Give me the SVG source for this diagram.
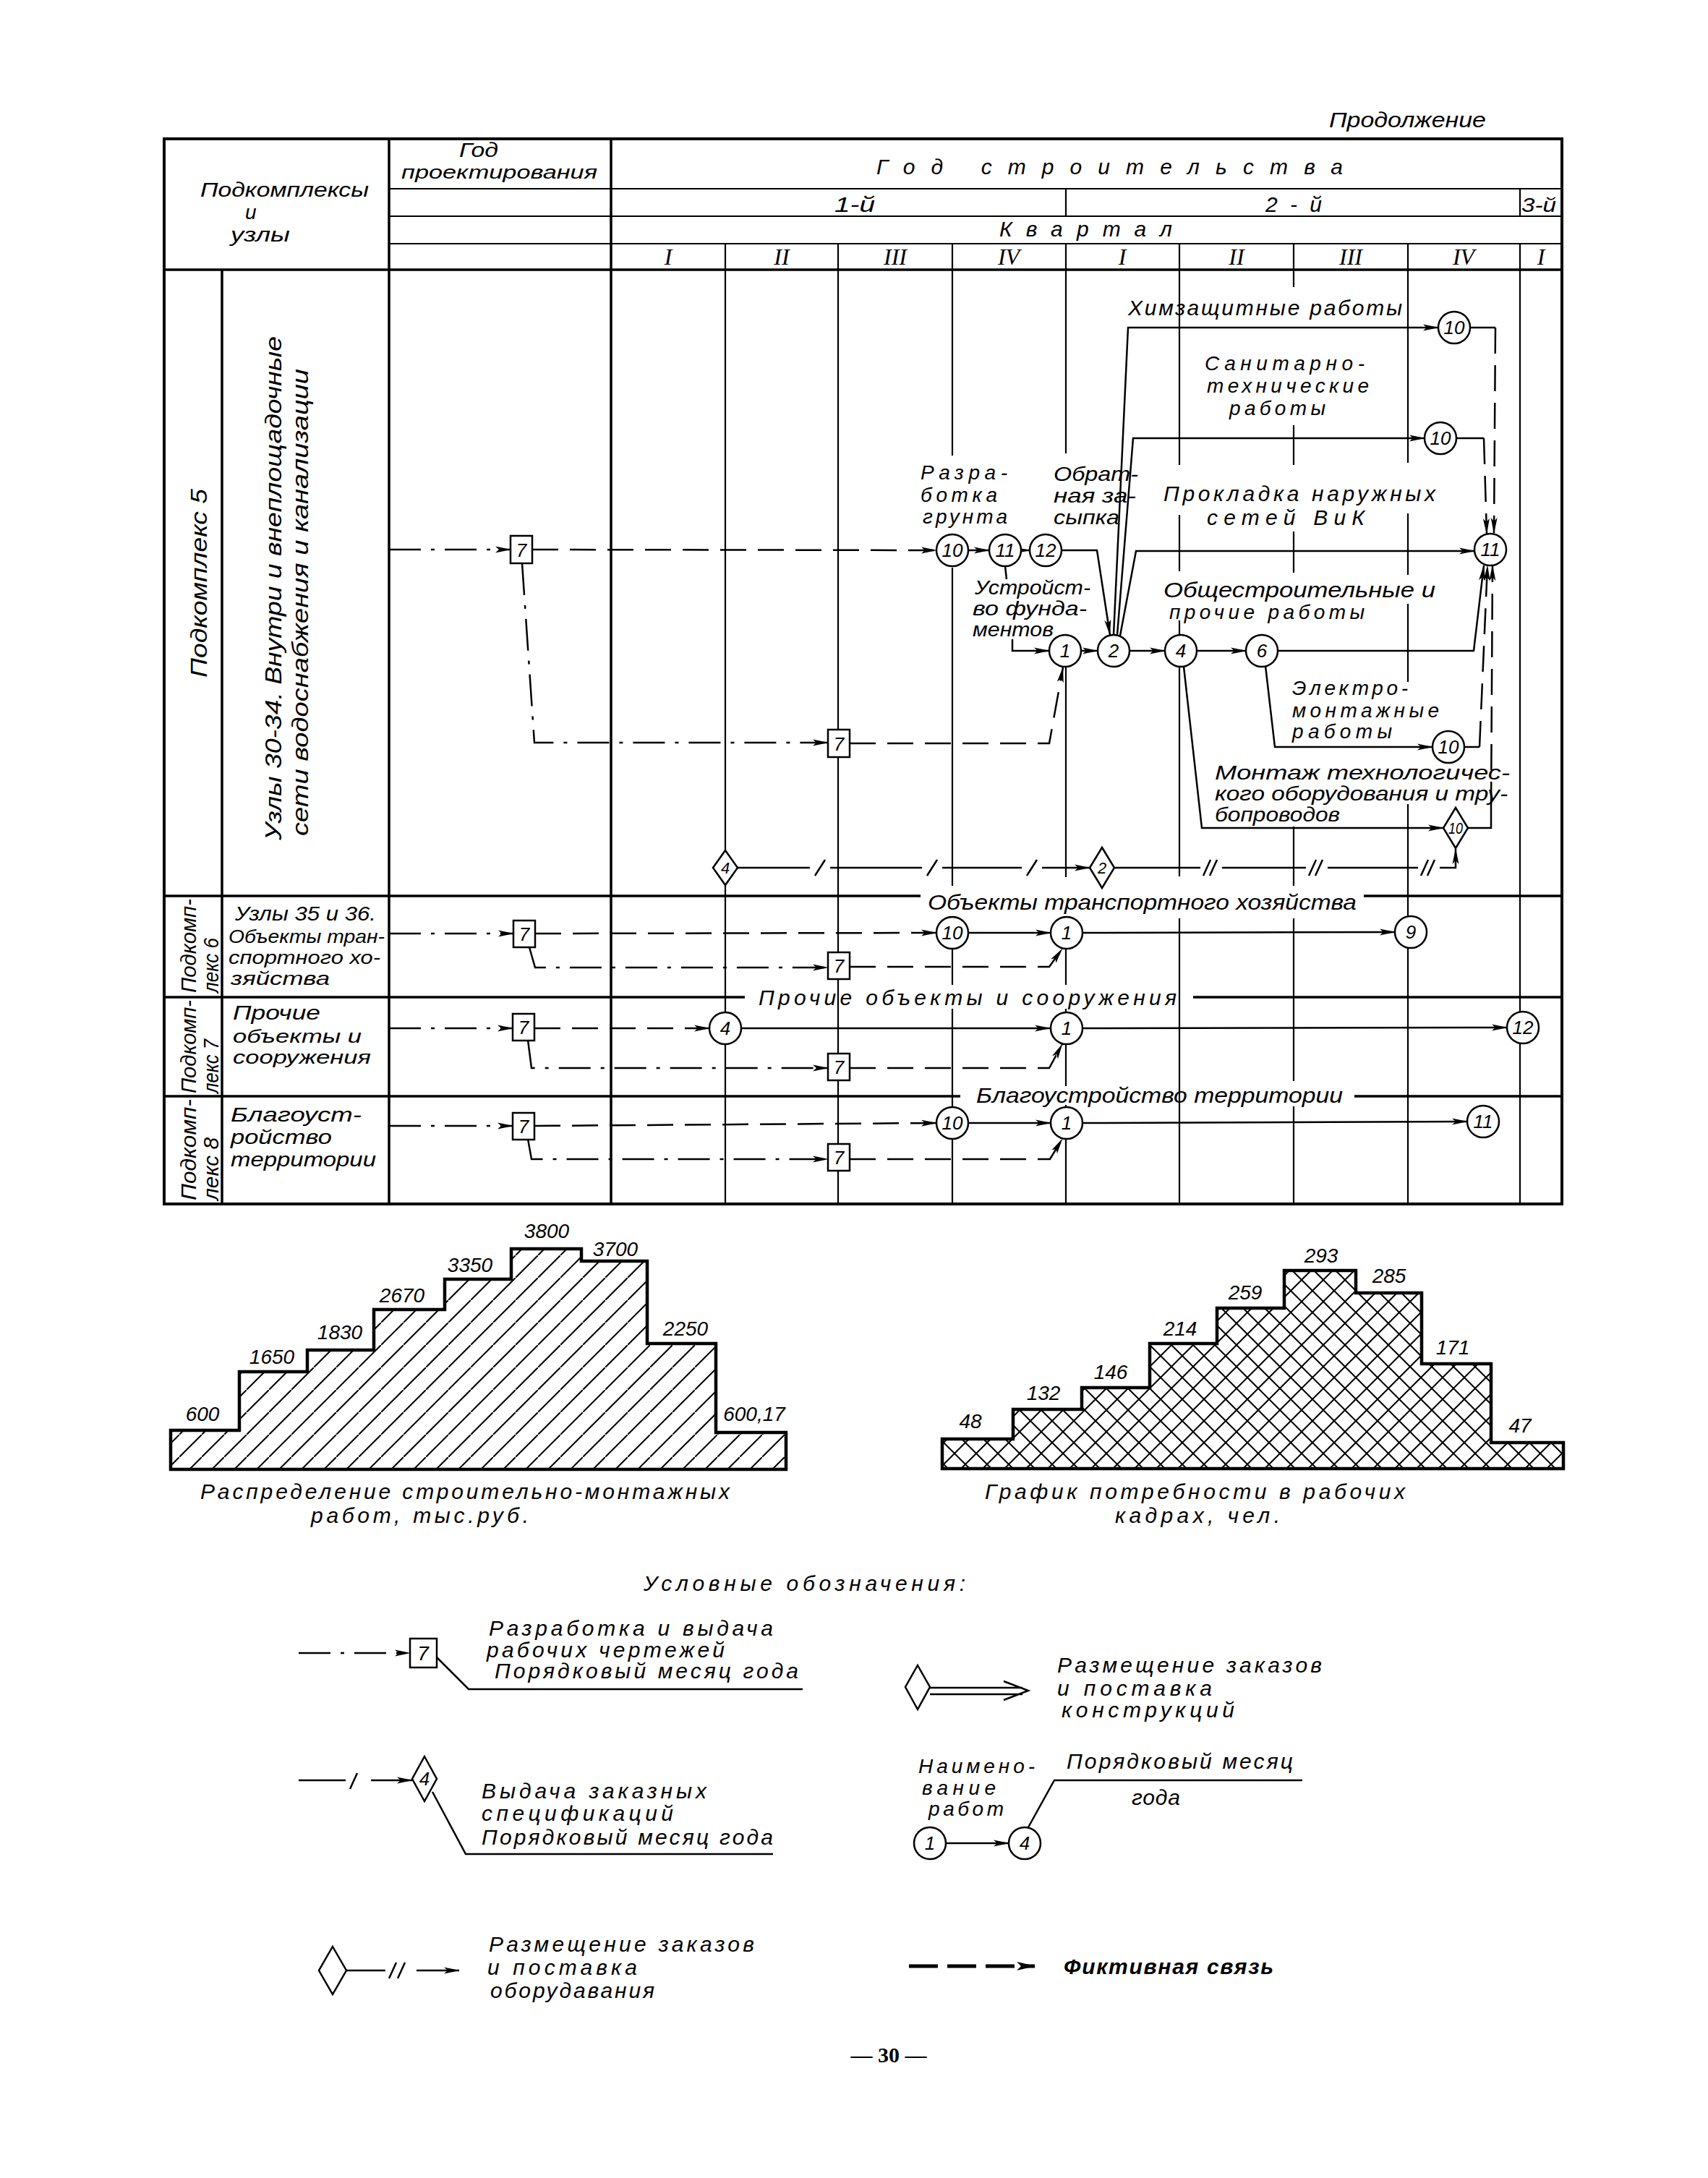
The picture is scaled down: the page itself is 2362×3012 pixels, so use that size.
<svg xmlns="http://www.w3.org/2000/svg" width="2362" height="3012" viewBox="0 0 2362 3012">
<style>
.t{font-family:'Liberation Sans',Arial,sans-serif;font-style:italic;fill:#000}
.f22{font-size:22px}.f26{font-size:26px}.f28{font-size:28px}.f30{font-size:30px}.f32{font-size:32px}
.rn{font-family:'Liberation Serif','Times New Roman',serif;font-style:italic;font-size:32px;text-anchor:middle}
.c{text-anchor:middle}
.b{stroke:#000;stroke-width:4;fill:none}
.r{stroke:#000;stroke-width:3.5;fill:none}
.g{stroke:#000;stroke-width:2.2;fill:none}
.l{stroke:#000;stroke-width:2.5;fill:none}
.dd{stroke:#000;stroke-width:2.5;fill:none;stroke-dasharray:44 14 5 14}
.ds{stroke:#000;stroke-width:2.5;fill:none;stroke-dasharray:36 16}
.n{fill:#fff;stroke:#000;stroke-width:2.5}
.ar{marker-end:url(#a)}
</style>
<defs>
<marker id="a" viewBox="0 0 22 10" refX="21" refY="5" markerWidth="22" markerHeight="10" markerUnits="userSpaceOnUse" orient="auto"><path d="M0,0.5 L22,5 L0,9.5 L5,5 Z" fill="#000"/></marker>
<marker id="a2" viewBox="0 0 26 14" refX="25" refY="7" markerWidth="26" markerHeight="14" markerUnits="userSpaceOnUse" orient="auto"><path d="M0,1 L26,7 L0,13 L6,7 Z" fill="#000"/></marker>
<pattern id="h1" patternUnits="userSpaceOnUse" width="31" height="31"><path d="M-4,35 L35,-4" stroke="#000" stroke-width="2"/></pattern>
<pattern id="h2" patternUnits="userSpaceOnUse" width="30" height="30"><path d="M-3,-3 L33,33 M33,-3 L-3,33" stroke="#000" stroke-width="2"/></pattern>
</defs>
<rect width="2362" height="3012" fill="#fff"/>

<text class="t f30" x="1838" y="176" textLength="217" lengthAdjust="spacingAndGlyphs">Продолжение</text>

<!-- TABLE GRID -->
<g id="table">
<rect class="b" x="227" y="192" width="1933" height="1473"/>
<path class="g" d="M538,261 H2160 M538,299 H2160 M538,337 H2160"/>
<path class="r" d="M227,373 H2160"/>
<path class="r" d="M538,192 V1665 M845,192 V1665 M307,373 V1665"/>
<path class="g" d="M1474,261 V299 M2102,261 V299"/>
<path class="g" d="M1003,337 V373 M1159,337 V373 M1317,337 V373 M1474,337 V373 M1631,337 V373 M1789,337 V373 M1947,337 V373 M2102,337 V373"/>
<path class="r" d="M227,1239 H1273 M1886,1239 H2160 M227,1379 H1030 M1650,1379 H2160 M227,1516 H1328 M1873,1516 H2160"/>
<path class="g" d="M1003,373 V1665 M1159,373 V1665
M1317,373 V630 M1317,785 V1225 M1317,1313 V1362 M1317,1395 V1665
M1474,373 V627 M1474,923 V1213 M1474,1313 V1362 M1474,1395 V1502 M1474,1528 V1665
M1631,373 V643 M1631,712 V790 M1631,858 V1212 M1631,1270 V1665
M1789,373 V397 M1789,588 V643 M1789,735 V792 M1789,1143 V1225 M1789,1270 V1495 M1789,1530 V1665
M1947,373 V640 M1947,710 V795 M1947,835 V943 M1947,1112 V1665
M2102,373 V1665"/>
</g>

<!-- HEADER TEXT -->
<g id="header">
<text class="t f28" x="277" y="272" textLength="233" lengthAdjust="spacingAndGlyphs">Подкомплексы</text>
<text class="t f28" x="339" y="303">и</text>
<text class="t f28" x="319" y="334" textLength="82" lengthAdjust="spacingAndGlyphs">узлы</text>
<text class="t f28" x="635" y="217" textLength="54" lengthAdjust="spacingAndGlyphs">Год</text>
<text class="t f26" x="555" y="247" textLength="271" lengthAdjust="spacingAndGlyphs">проектирования</text>
<text class="t f30" x="1212" y="241" textLength="645" lengthAdjust="spacing">Год  строительства</text>
<text class="t f30" x="1154" y="293" textLength="56" lengthAdjust="spacingAndGlyphs">1-й</text>
<text class="t f30" x="1750" y="293" textLength="78" lengthAdjust="spacing">2-й</text>
<text class="t f28" x="2104" y="293" textLength="48" lengthAdjust="spacingAndGlyphs">3-й</text>
<text class="t f30" x="1382" y="327" textLength="239" lengthAdjust="spacing">Квартал</text>
<text class="rn" x="924" y="366">I</text>
<text class="rn" x="1081" y="366">II</text>
<text class="rn" x="1238" y="366">III</text>
<text class="rn" x="1395" y="366">IV</text>
<text class="rn" x="1552" y="366">I</text>
<text class="rn" x="1710" y="366">II</text>
<text class="rn" x="1868" y="366">III</text>
<text class="rn" x="2024" y="366">IV</text>
<text class="rn" x="2131" y="366">I</text>
</g>

<!-- ROW LABELS -->
<g id="row-labels">
<text class="t f32" transform="translate(286,937) rotate(-90)" textLength="261" lengthAdjust="spacingAndGlyphs">Подкомплекс 5</text>
<text class="t f32" transform="translate(389,1162) rotate(-90)" textLength="697" lengthAdjust="spacingAndGlyphs">Узлы 30-34. Внутри и внеплощадочные</text>
<text class="t f32" transform="translate(426,1156) rotate(-90)" textLength="646" lengthAdjust="spacingAndGlyphs">сети водоснабжения и канализации</text>
<text class="t f30" transform="translate(271,1373) rotate(-90)" textLength="130" lengthAdjust="spacingAndGlyphs">Подкомп-</text>
<text class="t f30" transform="translate(302,1373) rotate(-90)" textLength="76" lengthAdjust="spacingAndGlyphs">лекс 6</text>
<text class="t f30" transform="translate(271,1512) rotate(-90)" textLength="129" lengthAdjust="spacingAndGlyphs">Подкомп-</text>
<text class="t f30" transform="translate(302,1512) rotate(-90)" textLength="75" lengthAdjust="spacingAndGlyphs">лекс 7</text>
<text class="t f30" transform="translate(271,1660) rotate(-90)" textLength="140" lengthAdjust="spacingAndGlyphs">Подкомп-</text>
<text class="t f30" transform="translate(302,1660) rotate(-90)" textLength="87" lengthAdjust="spacingAndGlyphs">лекс 8</text>
<text class="t f28" x="325" y="1273" textLength="195" lengthAdjust="spacingAndGlyphs">Узлы 35 и 36.</text>
<text class="t f26" x="316" y="1304" textLength="216" lengthAdjust="spacingAndGlyphs">Объекты тран-</text>
<text class="t f26" x="316" y="1333" textLength="210" lengthAdjust="spacingAndGlyphs">спортного хо-</text>
<text class="t f26" x="319" y="1362" textLength="137" lengthAdjust="spacingAndGlyphs">зяйства</text>
<text class="t f28" x="322" y="1410" textLength="121" lengthAdjust="spacingAndGlyphs">Прочие</text>
<text class="t f26" x="322" y="1442" textLength="178" lengthAdjust="spacingAndGlyphs">объекты и</text>
<text class="t f26" x="322" y="1471" textLength="191" lengthAdjust="spacingAndGlyphs">сооружения</text>
<text class="t f28" x="319" y="1551" textLength="181" lengthAdjust="spacingAndGlyphs">Благоуст-</text>
<text class="t f28" x="319" y="1582" textLength="140" lengthAdjust="spacingAndGlyphs">ройство</text>
<text class="t f28" x="319" y="1613" textLength="201" lengthAdjust="spacingAndGlyphs">территории</text>
<text class="t f30" x="1283" y="1258" textLength="593" lengthAdjust="spacingAndGlyphs">Объекты транспортного хозяйства</text>
<text class="t f30" x="1049" y="1390" textLength="578" lengthAdjust="spacing">Прочие объекты и сооружения</text>
<text class="t f30" x="1350" y="1525" textLength="507" lengthAdjust="spacingAndGlyphs">Благоустройство территории</text>
</g>

<!-- WORK LABELS -->
<g id="work-labels">
<text class="t f30" x="1560" y="436" textLength="379" lengthAdjust="spacing">Химзащитные работы</text>
<text class="t f28" x="1666" y="512" textLength="221" lengthAdjust="spacing">Санитарно-</text>
<text class="t f28" x="1669" y="543" textLength="224" lengthAdjust="spacing">технические</text>
<text class="t f28" x="1700" y="574" textLength="133" lengthAdjust="spacing">работы</text>
<text class="t f30" x="1609" y="693" textLength="376" lengthAdjust="spacing">Прокладка наружных</text>
<text class="t f30" x="1669" y="726" textLength="218" lengthAdjust="spacing">сетей ВиК</text>
<text class="t f30" x="1609" y="826" textLength="376" lengthAdjust="spacingAndGlyphs">Общестроительные и</text>
<text class="t f28" x="1617" y="856" textLength="270" lengthAdjust="spacing">прочие работы</text>
<text class="t f28" x="1273" y="663" textLength="120" lengthAdjust="spacing">Разра-</text>
<text class="t f28" x="1273" y="694" textLength="106" lengthAdjust="spacing">ботка</text>
<text class="t f28" x="1276" y="724" textLength="117" lengthAdjust="spacing">грунта</text>
<text class="t f28" x="1457" y="665" textLength="117" lengthAdjust="spacingAndGlyphs">Обрат-</text>
<text class="t f28" x="1457" y="695" textLength="114" lengthAdjust="spacingAndGlyphs">ная за-</text>
<text class="t f28" x="1457" y="725" textLength="91" lengthAdjust="spacingAndGlyphs">сыпка</text>
<text class="t f28" x="1348" y="822" textLength="160" lengthAdjust="spacingAndGlyphs">Устройст-</text>
<text class="t f28" x="1345" y="851" textLength="158" lengthAdjust="spacingAndGlyphs">во фунда-</text>
<text class="t f28" x="1345" y="880" textLength="112" lengthAdjust="spacingAndGlyphs">ментов</text>
<text class="t f28" x="1787" y="961" textLength="160" lengthAdjust="spacing">Электро-</text>
<text class="t f28" x="1787" y="992" textLength="203" lengthAdjust="spacing">монтажные</text>
<text class="t f28" x="1787" y="1021" textLength="138" lengthAdjust="spacing">работы</text>
<text class="t f28" x="1680" y="1078" textLength="408" lengthAdjust="spacingAndGlyphs">Монтаж технологичес-</text>
<text class="t f28" x="1680" y="1107" textLength="405" lengthAdjust="spacingAndGlyphs">кого оборудования и тру-</text>
<text class="t f28" x="1680" y="1136" textLength="173" lengthAdjust="spacingAndGlyphs">бопроводов</text>
</g>

<!-- CONNECTORS -->
<g id="connectors">
<!-- SC5 -->
<path class="dd ar" d="M538,760 H706"/>
<path class="ds ar" d="M736,760 L1295,761"/>
<path class="l ar" d="M1339,761 H1368"/>
<path class="l ar" d="M1412,761 H1424"/>
<path class="l ar" d="M1468,761 H1517 L1535,878"/>
<path class="l" d="M1390,783 L1392,801"/>
<path class="l ar" d="M1400,884 V900 H1451"/>
<path class="dd ar" d="M722,779 L739,1027 H1145"/>
<path class="ds ar" d="M1175,1028 H1451 L1470,923"/>
<path class="l ar" d="M1495,900 H1518"/>
<path class="l ar" d="M1562,900 H1611"/>
<path class="l ar" d="M1655,900 H1723"/>
<path class="l ar" d="M1540,878 L1560,453 H1989"/>
<path class="l ar" d="M1545,878 L1567,606 H1970"/>
<path class="l ar" d="M1549,879 L1571,762 H2039"/>
<path class="l ar" d="M1767,900 H2038 L2052,782"/>
<path class="l ar" d="M1750,921 L1763,1033 H1981"/>
<path class="l ar" d="M1637,922 L1662,1145 H1996"/>
<path class="l" d="M2033,453 H2068"/>
<path class="ds ar" d="M2068,453 L2066,737"/>
<path class="l" d="M2014,606 H2052"/>
<path class="ds ar" d="M2052,606 L2056,738"/>
<path class="l" d="M2025,1033 H2046"/>
<path class="ds ar" d="M2046,1033 L2057,782"/>
<path class="l" d="M2030,1145 H2062 V1117"/>
<path class="ds ar" d="M2062,1117 L2064,782"/>
<path class="l" d="M1020,1200 H1120 M1148,1200 H1275 M1303,1200 H1413"/>
<path class="l" d="M1127,1211 L1141,1189 M1282,1211 L1296,1189 M1420,1211 L1434,1189"/>
<path class="l ar" d="M1441,1200 H1507"/>
<path class="l" d="M1541,1200 H1660 M1690,1200 H1806 M1836,1200 H1961"/>
<path class="l" d="M1664,1211 L1674,1189 M1673,1211 L1683,1189 M1810,1211 L1820,1189 M1819,1211 L1829,1189 M1965,1211 L1975,1189 M1974,1211 L1984,1189"/>
<path class="l ar" d="M1991,1200 H2013 V1174"/>
<!-- SC6 -->
<path class="dd ar" d="M538,1291 H710"/>
<path class="ds ar" d="M740,1291 L1295,1290"/>
<path class="l ar" d="M1339,1290 H1453"/>
<path class="l ar" d="M1497,1290 L1929,1289"/>
<path class="dd ar" d="M732,1310 L740,1338 H1145"/>
<path class="ds ar" d="M1175,1337 H1451 L1469,1312"/>
<!-- SC7 -->
<path class="dd ar" d="M538,1422 H709"/>
<path class="ds ar" d="M739,1422 H981"/>
<path class="l ar" d="M1025,1422 H1452"/>
<path class="l ar" d="M1497,1422 L2084,1421"/>
<path class="dd ar" d="M730,1438 L735,1477 H1145"/>
<path class="ds ar" d="M1175,1477 H1451 L1469,1444"/>
<!-- SC8 -->
<path class="dd ar" d="M538,1557 H709"/>
<path class="ds ar" d="M739,1557 L1295,1553"/>
<path class="l ar" d="M1339,1553 H1453"/>
<path class="l ar" d="M1497,1553 L2029,1551"/>
<path class="dd ar" d="M730,1575 L735,1603 H1145"/>
<path class="ds ar" d="M1175,1603 H1452 L1469,1575"/>
</g>

<!-- NODES -->
<g id="sc5-box7a"><rect class="n" x="706" y="741" width="30" height="38"/><text class="t f26 c" x="721" y="770">7</text></g>
<g id="sc5-box7b"><rect class="n" x="1145" y="1009" width="30" height="38"/><text class="t f26 c" x="1160" y="1038">7</text></g>
<g id="sc5-n10a"><circle class="n" cx="1317" cy="761" r="22"/><text class="t f26 c" x="1317" y="770">10</text></g>
<g id="sc5-n11a"><circle class="n" cx="1390" cy="761" r="22"/><text class="t f26 c" x="1390" y="770">11</text></g>
<g id="sc5-n12a"><circle class="n" cx="1446" cy="761" r="22"/><text class="t f26 c" x="1446" y="770">12</text></g>
<g id="sc5-n1"><circle class="n" cx="1473" cy="900" r="22"/><text class="t f26 c" x="1473" y="909">1</text></g>
<g id="sc5-n2"><circle class="n" cx="1540" cy="900" r="22"/><text class="t f26 c" x="1540" y="909">2</text></g>
<g id="sc5-n4"><circle class="n" cx="1633" cy="900" r="22"/><text class="t f26 c" x="1633" y="909">4</text></g>
<g id="sc5-n6"><circle class="n" cx="1745" cy="900" r="22"/><text class="t f26 c" x="1745" y="909">6</text></g>
<g id="sc5-n10-chem"><circle class="n" cx="2011" cy="453" r="22"/><text class="t f26 c" x="2011" y="462">10</text></g>
<g id="sc5-n10-sanit"><circle class="n" cx="1992" cy="606" r="22"/><text class="t f26 c" x="1992" y="615">10</text></g>
<g id="sc5-n11-final"><circle class="n" cx="2061" cy="760" r="22"/><text class="t f26 c" x="2061" y="769">11</text></g>
<g id="sc5-n10-elec"><circle class="n" cx="2003" cy="1033" r="22"/><text class="t f26 c" x="2003" y="1042">10</text></g>
<g id="sc5-d10"><polygon class="n" points="2013,1117 2030,1145 2013,1173 1996,1145"/><text class="t f22 c" x="2013" y="1153" textLength="20" lengthAdjust="spacingAndGlyphs">10</text></g>
<g id="sc5-d4"><polygon class="n" points="1003,1176 1020,1200 1003,1224 986,1200"/><text class="t f22 c" x="1003" y="1208">4</text></g>
<g id="sc5-d2"><polygon class="n" points="1524,1172 1541,1200 1524,1228 1507,1200"/><text class="t f22 c" x="1524" y="1208">2</text></g>

<g id="sc6-box7a"><rect class="n" x="710" y="1273" width="30" height="37"/><text class="t f26 c" x="725" y="1301">7</text></g>
<g id="sc6-box7b"><rect class="n" x="1145" y="1317" width="30" height="37"/><text class="t f26 c" x="1160" y="1345">7</text></g>
<g id="sc6-n10"><circle class="n" cx="1317" cy="1290" r="22"/><text class="t f26 c" x="1317" y="1299">10</text></g>
<g id="sc6-n1"><circle class="n" cx="1475" cy="1290" r="22"/><text class="t f26 c" x="1475" y="1299">1</text></g>
<g id="sc6-n9"><circle class="n" cx="1951" cy="1289" r="22"/><text class="t f26 c" x="1951" y="1298">9</text></g>

<g id="sc7-box7a"><rect class="n" x="709" y="1402" width="30" height="37"/><text class="t f26 c" x="724" y="1430">7</text></g>
<g id="sc7-box7b"><rect class="n" x="1145" y="1457" width="30" height="37"/><text class="t f26 c" x="1160" y="1485">7</text></g>
<g id="sc7-n4"><circle class="n" cx="1003" cy="1422" r="22"/><text class="t f26 c" x="1003" y="1431">4</text></g>
<g id="sc7-n1"><circle class="n" cx="1475" cy="1422" r="22"/><text class="t f26 c" x="1475" y="1431">1</text></g>
<g id="sc7-n12"><circle class="n" cx="2106" cy="1421" r="22"/><text class="t f26 c" x="2106" y="1430">12</text></g>

<g id="sc8-box7a"><rect class="n" x="709" y="1539" width="30" height="37"/><text class="t f26 c" x="724" y="1567">7</text></g>
<g id="sc8-box7b"><rect class="n" x="1145" y="1582" width="30" height="37"/><text class="t f26 c" x="1160" y="1610">7</text></g>
<g id="sc8-n10"><circle class="n" cx="1317" cy="1553" r="22"/><text class="t f26 c" x="1317" y="1562">10</text></g>
<g id="sc8-n1"><circle class="n" cx="1475" cy="1553" r="22"/><text class="t f26 c" x="1475" y="1562">1</text></g>
<g id="sc8-n11"><circle class="n" cx="2051" cy="1551" r="22"/><text class="t f26 c" x="2051" y="1560">11</text></g>

<!-- CHARTS -->
<g id="chart-cost">
<path d="M236,2032 V1978 H331 V1897 H425 V1867 H517 V1811 H615 V1769 H707 V1727 H804 V1744 H895 V1858 H990 V1981 H1087 V2032 Z" fill="url(#h1)" stroke="#000" stroke-width="4.5"/>
<text class="t f28 c" x="280" y="1965">600</text>
<text class="t f28 c" x="376" y="1886">1650</text>
<text class="t f28 c" x="470" y="1852">1830</text>
<text class="t f28 c" x="556" y="1801">2670</text>
<text class="t f28 c" x="650" y="1759">3350</text>
<text class="t f28 c" x="756" y="1712">3800</text>
<text class="t f28 c" x="851" y="1737">3700</text>
<text class="t f28 c" x="948" y="1847">2250</text>
<text class="t f28 c" x="1043" y="1965">600,17</text>
<text class="t f30" x="277" y="2073" textLength="732" lengthAdjust="spacing">Распределение строительно-монтажных</text>
<text class="t f30" x="430" y="2106" textLength="301" lengthAdjust="spacing">работ, тыс.руб.</text>
</g>
<g id="chart-workers">
<path d="M1303,2031 V1990 H1401 V1949 H1496 V1919 H1590 V1858 H1683 V1809 H1776 V1757 H1875 V1788 H1966 V1886 H2062 V1995 H2162 V2031 Z" fill="url(#h2)" stroke="#000" stroke-width="4.5"/>
<text class="t f28 c" x="1342" y="1975">48</text>
<text class="t f28 c" x="1443" y="1936">132</text>
<text class="t f28 c" x="1536" y="1907">146</text>
<text class="t f28 c" x="1632" y="1847">214</text>
<text class="t f28 c" x="1722" y="1797">259</text>
<text class="t f28 c" x="1827" y="1746">293</text>
<text class="t f28 c" x="1921" y="1774">285</text>
<text class="t f28 c" x="2009" y="1873">171</text>
<text class="t f28 c" x="2102" y="1981">47</text>
<text class="t f30" x="1362" y="2073" textLength="581" lengthAdjust="spacing">График потребности в рабочих</text>
<text class="t f30" x="1542" y="2106" textLength="228" lengthAdjust="spacing">кадрах, чел.</text>
</g>

<!-- LEGEND -->
<g id="legend">
<text class="t f30" x="890" y="2200" textLength="445" lengthAdjust="spacing">Условные обозначения:</text>
<g id="leg-drawings">
<path class="dd ar" d="M413,2286 H567"/>
<rect class="n" x="567" y="2266" width="37" height="40"/><text class="t f28 c" x="585" y="2296">7</text>
<path class="l" d="M604,2292 L648,2336 H1110"/>
<text class="t f30" x="676" y="2262" textLength="393" lengthAdjust="spacing">Разработка и выдача</text>
<text class="t f30" x="673" y="2292" textLength="329" lengthAdjust="spacing">рабочих чертежей</text>
<text class="t f30" x="684" y="2321" textLength="420" lengthAdjust="spacing">Порядковый месяц года</text>
</g>
<g id="leg-specs">
<path class="l" d="M413,2462 H478 M484,2474 L494,2452"/>
<path class="l ar" d="M513,2462 H570"/>
<polygon class="n" points="587,2429 604,2460 587,2491 570,2460"/><text class="t f26 c" x="587" y="2469">4</text>
<path class="l" d="M598,2478 L644,2564 H1069"/>
<text class="t f30" x="666" y="2487" textLength="311" lengthAdjust="spacing">Выдача заказных</text>
<text class="t f30" x="666" y="2518" textLength="265" lengthAdjust="spacing">спецификаций</text>
<text class="t f30" x="666" y="2551" textLength="403" lengthAdjust="spacing">Порядковый месяц года</text>
</g>
<g id="leg-equipment">
<polygon class="n" points="460,2692 479,2725 460,2758 441,2725"/>
<path class="l" d="M479,2725 H533 M538,2736 L548,2714 M550,2736 L560,2714"/>
<path class="l ar" d="M576,2725 H635"/>
<text class="t f30" x="676" y="2699" textLength="367" lengthAdjust="spacing">Размещение заказов</text>
<text class="t f30" x="674" y="2731" textLength="207" lengthAdjust="spacing">и поставка</text>
<text class="t f30" x="678" y="2763" textLength="227" lengthAdjust="spacing">оборудавания</text>
</g>
<g id="leg-structures">
<polygon class="n" points="1269,2303 1286,2333 1269,2364 1252,2333"/>
<path class="l" d="M1286,2334 H1414 M1286,2343 H1414 M1388,2325 L1422,2338 L1388,2351"/>
<text class="t f30" x="1462" y="2313" textLength="366" lengthAdjust="spacing">Размещение заказов</text>
<text class="t f30" x="1462" y="2345" textLength="214" lengthAdjust="spacing">и поставка</text>
<text class="t f30" x="1468" y="2375" textLength="239" lengthAdjust="spacing">конструкций</text>
</g>
<g id="leg-work">
<path class="l ar" d="M1308,2549 H1395"/>
<circle class="n" cx="1286" cy="2549" r="22"/><text class="t f26 c" x="1286" y="2558">1</text>
<circle class="n" cx="1417" cy="2549" r="22"/><text class="t f26 c" x="1417" y="2558">4</text>
<path class="l" d="M1422,2527 L1458,2462 H1801"/>
<text class="t f28" x="1270" y="2452" textLength="161" lengthAdjust="spacing">Наимено-</text>
<text class="t f28" x="1275" y="2482" textLength="102" lengthAdjust="spacing">вание</text>
<text class="t f28" x="1284" y="2511" textLength="104" lengthAdjust="spacing">работ</text>
<text class="t f30" x="1475" y="2446" textLength="313" lengthAdjust="spacing">Порядковый месяц</text>
<text class="t f30" x="1565" y="2496" textLength="67" lengthAdjust="spacing">года</text>
</g>
<g id="leg-fictive">
<path d="M1257,2719 H1431" stroke="#000" stroke-width="5" fill="none" stroke-dasharray="40 13" marker-end="url(#a2)"/>
<text class="t f30" x="1471" y="2730" font-weight="bold" textLength="290" lengthAdjust="spacing">Фиктивная связь</text>
</g>
</g>

<text x="1229" y="2852" font-family="'Liberation Serif','Times New Roman',serif" font-weight="bold" font-size="30" text-anchor="middle">— 30 —</text>
</svg>
